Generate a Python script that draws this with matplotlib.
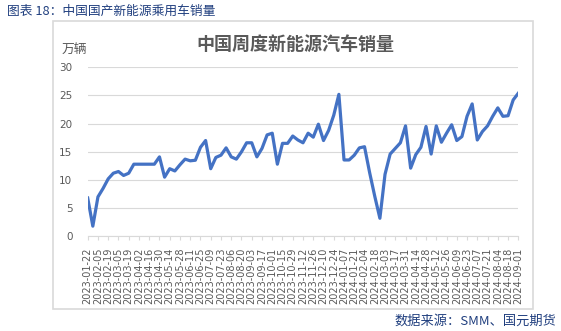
import matplotlib
matplotlib.use('Agg')
import matplotlib.pyplot as plt
import pandas as pd

plt.rcParams['font.family'] = ['Noto Sans CJK SC', 'DejaVu Sans']

# weekly dates, 2023-01-22 .. 2024-09-01
dates = pd.date_range('2023-01-22', '2024-09-01', freq='7D')
date_labels = [d.strftime('%Y-%m-%d') for d in dates]

# weekly NEV sales, 10k units
sales = [6.8, 1.8, 7.0, 8.5, 10.2, 11.2, 11.5, 10.8, 11.2, 12.8,
         12.8, 12.8, 12.8, 12.8, 14.1, 10.5, 12.0, 11.6, 12.7, 13.7,
         13.4, 13.5, 15.8, 17.0, 12.0, 14.0, 14.4, 15.7, 14.1, 13.7,
         15.0, 16.6, 16.6, 14.1, 15.6, 18.0, 18.3, 12.8, 16.5, 16.5,
         17.8, 17.1, 16.6, 18.3, 17.6, 19.9, 17.0, 18.8, 21.5, 25.2,
         13.55, 13.55, 14.4, 15.7, 15.9, 11.3, 7.1, 3.2, 11.0, 14.6,
         15.6, 16.6, 19.6, 12.1, 14.5, 15.8, 19.5, 14.6, 19.6, 16.7,
         18.3, 19.8, 17.0, 17.7, 21.3, 23.5, 17.1, 18.6, 19.6, 21.3,
         22.8, 21.3, 21.4, 24.2, 25.4]

y_ticks = [0, 5, 10, 15, 20, 25, 30]

W, H = 561, 331
fig = plt.figure(figsize=(W / 100, H / 100), dpi=100)

# outer chart border
border = plt.Rectangle((53 / W, 1 - 309 / H), (533.3 - 53) / W, (309 - 21.3) / H,
                       transform=fig.transFigure, fill=False, edgecolor='#D9D9D9', linewidth=1.2)
fig.patches.append(border)

ax = fig.add_axes([87.7 / W, 1 - 236.3 / H, (518.3 - 87.7) / W, (236.3 - 67.3) / H])
x = list(range(len(sales)))
ax.plot(x, sales, color='#4472C4', linewidth=2.3, solid_joinstyle='round')

ax.set_xlim(0, len(sales) - 1)
ax.set_ylim(0, 30)
ax.set_yticks(y_ticks)
ax.set_yticklabels([str(v) for v in y_ticks], fontsize=7.5, color='#595959', family='DejaVu Sans')
ax.tick_params(axis='y', length=0, pad=11)
ax.grid(axis='y', color='#D9D9D9', linewidth=0.8)
ax.set_axisbelow(True)

ax.set_xticks(x[::2])
ax.set_xticklabels(date_labels[::2], rotation=90, fontsize=7, color='#595959', family='DejaVu Sans')
ax.tick_params(axis='x', length=3, color='#D9D9D9', pad=5)

for side in ['left', 'right', 'top']:
    ax.spines[side].set_visible(False)
ax.spines['bottom'].set_color('#D9D9D9')
ax.spines['bottom'].set_linewidth(0.8)

fig.text(295 / W, 1 - 44 / H, '中国周度新能源汽车销量', fontsize=13, fontweight='bold',
         color='#595959', ha='center', va='center')
fig.text(62 / W, 1 - 49 / H, '万辆', fontsize=9.2, color='#595959', ha='left', va='center')
fig.text(7 / W, 1 - 11 / H, '图表 18：中国国产新能源乘用车销量', fontsize=9.2,
         color='#203F7F', ha='left', va='center')
fig.text(556 / W, 1 - 321 / H, '数据来源：SMM、国元期货', fontsize=9.5,
         color='#203F7F', ha='right', va='center')

fig.savefig('out.png', dpi=100)
